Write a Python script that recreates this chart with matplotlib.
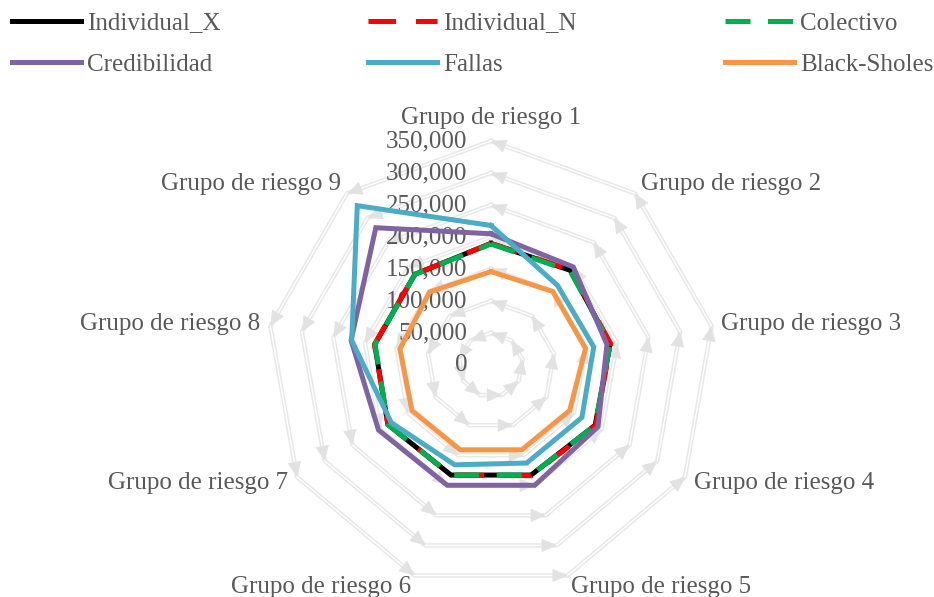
import numpy as np
import matplotlib.pyplot as plt
from matplotlib.transforms import offset_copy

# values
categories = ["Grupo de riesgo %d" % i for i in range(1, 10)]
individual_x = [190000, 193000, 189000, 188000, 183000, 183000, 186000, 184500, 185000]
individual_n = [190000, 194000, 190000, 189000, 184000, 183000, 186000, 185000, 185000]
colectivo = [189000, 192000, 189000, 188000, 183000, 183000, 186000, 184000, 185000]
credibilidad = [205000, 200000, 184000, 193000, 200000, 200000, 203000, 222000, 280000]
fallas = [218000, 162000, 163000, 164000, 163000, 166000, 180000, 221000, 325000]
black_sholes = [146000, 150000, 150000, 142000, 141000, 141000, 142500, 144500, 149000]
ticks = [0, 50000, 100000, 150000, 200000, 250000, 300000, 350000]
tick_labels = ["0", "50,000", "100,000", "150,000", "200,000", "250,000", "300,000", "350,000"]

series = [
    ("Individual_X", individual_x, "#000000", "-"),
    ("Individual_N", individual_n, "#FF0000", (0, (5.5, 4))),
    ("Colectivo", colectivo, "#00B050", (0, (5, 3.5))),
    ("Credibilidad", credibilidad, "#8064A2", "-"),
    ("Fallas", fallas, "#4BACC6", "-"),
    ("Black-Sholes", black_sholes, "#F79646", "-"),
]

plt.rcParams["font.family"] = ["Liberation Serif", "DejaVu Serif"]
txt_color = "#595959"
grid_color = "#e8e8e8"
head_color = "#e2e2e2"

W, H = 934, 597
fig = plt.figure(figsize=(W / 100, H / 100), dpi=100)
cx, cy, rad = 491, 365, 224
ax = fig.add_axes([(cx - rad) / W, (H - cy - rad) / H, 2 * rad / W, 2 * rad / H],
                  projection="polar")
ax.set_theta_offset(np.pi / 2)
ax.set_theta_direction(-1)
ax.set_ylim(0, ticks[-1])
ax.set_xticks([])
ax.set_yticks([])
ax.grid(False)
ax.spines["polar"].set_visible(False)
ax.patch.set_visible(False)

n = len(categories)
theta = np.arange(n) * 2 * np.pi / n
th = np.append(theta, theta[0])

# polygon gridlines: double line + arrow heads (counter-clockwise)
for r in ticks[1:]:
    rr = np.full(n + 1, r)
    ax.plot(th, rr, color=grid_color, lw=3.2, zorder=1, clip_on=False)
    ax.plot(th, rr, color="white", lw=1.0, zorder=1.1, clip_on=False)
    for k in range(n):
        q = ax.transData.transform((theta[k], r))
        p = ax.transData.transform((theta[(k + 1) % n], r))
        d = (p - q) / np.hypot(*(p - q)) * 14
        ax.annotate("", xy=(theta[k], r), xytext=(d[0], d[1]),
                    textcoords="offset pixels",
                    arrowprops=dict(arrowstyle="-|>,head_length=1.0,head_width=0.45",
                                    color=head_color, lw=0.5, shrinkA=0, shrinkB=0,
                                    mutation_scale=10),
                    annotation_clip=False, zorder=1.2)

# tick labels along the first axis
trans = offset_copy(ax.transData, fig=fig, x=-24, y=0, units="dots")
for r, lab in zip(ticks, tick_labels):
    ax.text(0, r, lab, transform=trans, ha="right", va="center",
            fontsize=18, color=txt_color, zorder=2)

# category labels
for k, cat in enumerate(categories):
    s, c = np.sin(theta[k]), np.cos(theta[k])
    if s > 0.1:
        ha = "left"
    elif s < -0.1:
        ha = "right"
    else:
        ha = "center"
    va = "bottom" if abs(s) < 0.1 else "center"
    ax.annotate(cat, xy=(theta[k], ticks[-1]), xytext=(10 * s, 12 * c),
                textcoords="offset pixels", ha=ha, va=va, fontsize=18,
                color=txt_color, annotation_clip=False)

handles = []
for i, (name, vals, col, ls) in enumerate(series):
    v = np.append(vals, vals[0])
    ln, = ax.plot(th, v, color=col, lw=3.6, linestyle=ls, label=name,
                  solid_joinstyle="miter", dash_joinstyle="miter",
                  clip_on=False, zorder=5 + i)
    handles.append(ln)

order = [0, 3, 1, 4, 2, 5]
fig.legend([handles[i] for i in order], [series[i][0] for i in order],
           loc="upper left", bbox_to_anchor=(12 / W, 1 - 12 / H), ncol=3,
           frameon=False, fontsize=18, handlelength=2.76, handletextpad=0.25,
           columnspacing=5.9, labelspacing=0.75, borderpad=0, borderaxespad=0,
           labelcolor=txt_color)

plt.savefig("out.png", dpi=100)
